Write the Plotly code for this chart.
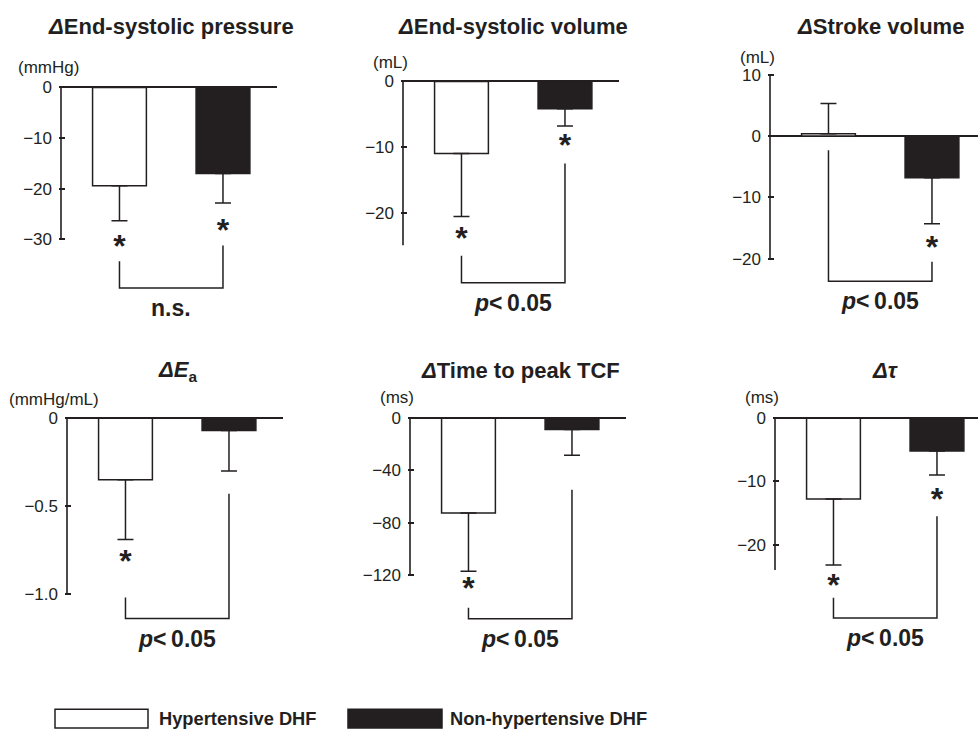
import plotly.graph_objects as go

W, H = 978, 729
INK = "#231f20"
FONT = "Liberation Sans, Arial, Helvetica, sans-serif"

# ---------------- data ----------------
groups = ["Hypertensive DHF", "Non-hypertensive DHF"]
titles = ["<b><i>Δ</i>End-systolic pressure</b>",
          "<b><i>Δ</i>End-systolic volume</b>",
          "<b><i>Δ</i>Stroke volume</b>",
          "<b><i>ΔE</i><sub>a</sub></b>",
          "<b><i>Δ</i>Time to peak TCF</b>",
          "<b><i>Δτ</i></b>"]
units = ["(mmHg)", "(mL)", "(mL)", "(mmHg/mL)", "(ms)", "(ms)"]
tick_vals = [[0, -10, -20, -30], [0, -10, -20], [10, 0, -10, -20],
             [0, -0.5, -1.0], [0, -40, -80, -120], [0, -10, -20]]
tick_text = [["0", "−10", "−20", "−30"], ["0", "−10", "−20"], ["10", "0", "−10", "−20"],
             ["0", "−0.5", "−1.0"], ["0", "−40", "−80", "−120"], ["0", "−10", "−20"]]
axis_top = [0, 0, 10, 0, 0, 0]
axis_bottom = [-30, -25, -20, -1.0, -120, -24]

hyp_mean = [-19.4, -11.0, 0.4, -0.35, -72.6, -12.8]
hyp_sd = [6.9, 9.6, 4.9, 0.34, 44.4, 10.4]
non_mean = [-17.0, -4.15, -6.8, -0.07, -8.6, -5.2]
non_sd = [5.8, 2.65, 7.5, 0.23, 19.7, 3.8]

star_hyp_y = [-30.6, -23.3, None, -0.79, -126.8, -25.7]
star_non_y = [-27.3, -9.1, -17.4, None, None, -12.2]
bracket_hyp_top = [-34.3, -26.6, -2.3, -1.02, -145.0, -28.4]
bracket_non_top = [-31.2, -12.5, -20.5, -0.43, -54.7, -15.5]
bracket_bottom = [-39.6, -30.7, -23.7, -1.14, -153.4, -31.6]
sig_label = ["n.s.", "p<0.05", "p<0.05", "p<0.05", "p<0.05", "p<0.05"]

# ---------------- layout geometry (pixels) ----------------
axis_x_px = [61, 403, 770, 67, 410, 775]
zero_px = [83, 77, 132, 416, 416, 416]
px_per_unit = [5.1, 6.6, 6.17, 177.0, 1.317, 6.37]
title_y_px = [22, 22, 22, 369, 368, 368]
unit_shift = [20, 19, 17, 19, 21, 21]
CAT_PX = 103.5      # pixels per category step
AX = -0.565         # x position of the value axis (category units)
RIGHT = 1.52        # right end of baseline (category units)
BAR_W = 0.52

fig = go.Figure()
layout = dict(width=W, height=H, margin=dict(l=0, r=0, t=0, b=0),
              paper_bgcolor="white", plot_bgcolor="white", showlegend=False,
              font=dict(family=FONT, color=INK))
annotations = []
shapes = []

for i in range(6):
    xa = "x" if i == 0 else f"x{i + 1}"
    ya = "y" if i == 0 else f"y{i + 1}"
    xk = "xaxis" if i == 0 else f"xaxis{i + 1}"
    yk = "yaxis" if i == 0 else f"yaxis{i + 1}"
    ppu = px_per_unit[i]
    xs = list(range(len(groups)))

    # axes geometry
    left_px = axis_x_px[i] - 2
    right_px = min(axis_x_px[i] + (RIGHT - AX) * CAT_PX, W)
    xr = [AX - 2 / CAT_PX, AX + (right_px - axis_x_px[i]) / CAT_PX]
    top_px = zero_px[i] - axis_top[i] * ppu - 4
    bot_px = zero_px[i] - bracket_bottom[i] * ppu + 4
    yr = [bracket_bottom[i] - 4 / ppu, axis_top[i] + 4 / ppu]
    layout[xk] = dict(domain=[left_px / W, right_px / W], range=xr, visible=False,
                      anchor=ya, fixedrange=True)
    layout[yk] = dict(domain=[1 - bot_px / H, 1 - top_px / H], range=yr, anchor=xa,
                      showgrid=False, showline=False, zeroline=True,
                      zerolinecolor=INK, zerolinewidth=1.6, fixedrange=True,
                      tickvals=tick_vals[i], ticktext=tick_text[i],
                      ticks="inside", ticklen=6, tickwidth=1.5, tickcolor=INK,
                      ticklabelstandoff=6,
                      tickfont=dict(family=FONT, size=17, color=INK))

    # bars with one-sided error bars
    means = [hyp_mean[i], non_mean[i]]
    sds = [hyp_sd[i], non_sd[i]]
    plus = [s if m > 0 else 0 for m, s in zip(means, sds)]
    minus = [s if m <= 0 else 0 for m, s in zip(means, sds)]
    fig.add_trace(go.Bar(x=xs, y=means, width=BAR_W, xaxis=xa, yaxis=ya,
                         marker=dict(color=["white", INK], line=dict(color=INK, width=1.5)),
                         error_y=dict(type="data", symmetric=False, array=plus,
                                      arrayminus=minus, color=INK, thickness=1.5, width=8),
                         hoverinfo="skip"))

    # value axis line
    fig.add_trace(go.Scatter(x=[AX, AX], y=[axis_top[i], axis_bottom[i]], mode="lines",
                             line=dict(color=INK, width=1.6), xaxis=xa, yaxis=ya,
                             hoverinfo="skip"))

    # significance bracket
    fig.add_trace(go.Scatter(x=[xs[0], xs[0], xs[1], xs[1]],
                             y=[bracket_hyp_top[i], bracket_bottom[i],
                                bracket_bottom[i], bracket_non_top[i]],
                             mode="lines", line=dict(color=INK, width=1.5),
                             xaxis=xa, yaxis=ya, hoverinfo="skip"))

    # asterisks
    sx, sy = [], []
    for j, v in enumerate([star_hyp_y[i], star_non_y[i]]):
        if v is not None:
            sx.append(xs[j])
            sy.append(v - 7 / ppu)
    if sx:
        fig.add_trace(go.Scatter(x=sx, y=sy, mode="text", text=["*"] * len(sx),
                                 textposition="middle center", cliponaxis=False,
                                 textfont=dict(family=FONT, size=32, color=INK, weight="bold"),
                                 xaxis=xa, yaxis=ya, hoverinfo="skip"))

    # significance label
    lab = sig_label[i]
    if lab.startswith("p"):
        lab_html = "<b><i>p</i>&lt;\u2009" + lab[2:] + "</b>"
    else:
        lab_html = "<b>" + lab + "</b>"
    annotations.append(dict(x=0.5, y=bracket_bottom[i], xref=xa, yref=ya, text=lab_html,
                            showarrow=False, xanchor="center", yanchor="middle", yshift=-20,
                            font=dict(family=FONT, size=23, color=INK)))

    # title
    annotations.append(dict(x=0.5, y=1 - title_y_px[i] / H, xref=xa, yref="paper",
                            text=titles[i], showarrow=False, xanchor="center",
                            yanchor="middle", font=dict(family=FONT, size=22, color=INK)))
    # unit label
    annotations.append(dict(x=AX, y=axis_top[i], xref=xa, yref=ya, text=units[i],
                            showarrow=False, xanchor="center", yanchor="middle",
                            xshift=-13, yshift=unit_shift[i],
                            font=dict(family=FONT, size=17, color=INK)))

# ---------------- legend (manual, wide swatches) ----------------
legend_fill = ["white", INK]
legend_box_px = [(55, 148), (348, 442)]
legend_text_px = [157, 448]
for k, g in enumerate(groups):
    x0, x1 = legend_box_px[k]
    shapes.append(dict(type="rect", xref="paper", yref="paper",
                       x0=x0 / W, x1=x1 / W, y0=1 - 728 / H, y1=1 - 709 / H,
                       fillcolor=legend_fill[k], line=dict(color=INK, width=1.5)))
    annotations.append(dict(x=legend_text_px[k] / W, y=1 - 718 / H, xref="paper", yref="paper",
                            text="<b>" + g + "</b>", showarrow=False, xanchor="left",
                            yanchor="middle", font=dict(family=FONT, size=18.3, color=INK)))

layout["annotations"] = annotations
layout["shapes"] = shapes
fig.update_layout(**layout)
fig.write_html("out.html", config={"displayModeBar": False},
               post_script="document.body.style.margin='0';document.body.style.padding='0';")
